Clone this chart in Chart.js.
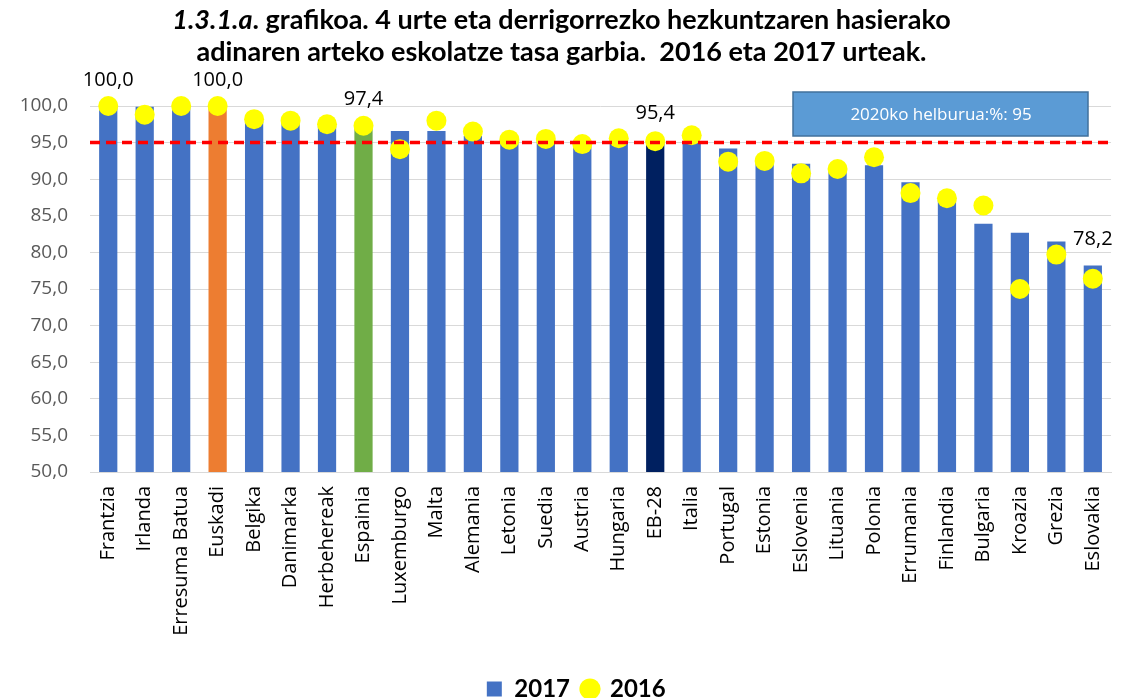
<!DOCTYPE html>
<html>
<head>
<meta charset="utf-8">
<script src="https://cdn.jsdelivr.net/npm/chart.js@4"></script>
<style>
  html, body { margin: 0; padding: 0; background: #fff; }
  #wrap { position: relative; width: 1123px; height: 698px; }
  #title {
    position: absolute; left: 0; top: 3px; width: 1123px;
    text-align: center; font-family: Lato, "Open Sans", sans-serif;
    font-weight: bold; font-size: 27px; line-height: 32px; color: #000;
  }
</style>
</head>
<body>
<div id="wrap">
  <canvas id="myChart" width="1123" height="698"></canvas>
  <div id="title"><i>1.3.1.a</i>. grafikoa. 4 urte eta derrigorrezko hezkuntzaren hasierako<br>adinaren arteko eskolatze tasa garbia.&nbsp; 2016 eta 2017 urteak.</div>
</div>
<script>
// Countries along the x-axis
var countries = ["Frantzia","Irlanda","Erresuma Batua","Euskadi","Belgika","Danimarka","Herbehereak",
  "Espainia","Luxemburgo","Malta","Alemania","Letonia","Suedia","Austria","Hungaria","EB-28",
  "Italia","Portugal","Estonia","Eslovenia","Lituania","Polonia","Errumania","Finlandia",
  "Bulgaria","Kroazia","Grezia","Eslovakia"];
// Bars (2017)
var y2017 = [100.0,99.9,100.0,100.0,97.9,97.8,97.3,97.4,96.6,96.6,95.9,95.5,95.5,95.0,95.0,95.4,
  95.1,94.2,92.9,92.1,91.4,91.9,89.6,87.2,83.9,82.7,81.5,78.2];
// Dots (2016)
var y2016 = [100.0,98.8,100.0,100.0,98.2,98.0,97.5,97.3,94.1,98.0,96.5,95.4,95.5,94.8,95.6,95.2,
  96.0,92.4,92.5,90.8,91.4,93.0,88.1,87.4,86.4,75.0,79.7,76.4];
// Axis ticks
var yMin = 50, yMax = 100, yStep = 5;
// 2020 target
var target = 95;
var targetText = "2020ko helburua:%: 95";
// Bars with a value label and highlighted bars
var labelled = ["Frantzia","Euskadi","Espainia","EB-28","Eslovakia"];
var highlight = { "Euskadi": "#ed7d31", "Espainia": "#70ad47", "EB-28": "#002060" };

var font = "'Open Sans', sans-serif";
var boldFont = "Lato, 'Open Sans', sans-serif";
var barColors = countries.map(function (c) { return highlight[c] || "#4472c4"; });

function fmt(v) { return v.toFixed(1).replace(".", ","); }

var extras = {
  id: "extras",
  beforeDraw: function (chart) {
    // legend sits a little right of the canvas centre
    chart.legend.left = 34;
    chart.legend.right = chart.width - 5;
  },
  afterDatasetsDraw: function (chart) {
    var ctx = chart.ctx, area = chart.chartArea;
    var y = chart.scales.y, meta = chart.getDatasetMeta(0);
    // target line
    ctx.save();
    ctx.strokeStyle = "#ff0000";
    ctx.lineWidth = 3.5;
    ctx.setLineDash([10, 6]);
    ctx.beginPath();
    ctx.moveTo(area.left, y.getPixelForValue(target));
    ctx.lineTo(area.right - 2, y.getPixelForValue(target));
    ctx.stroke();
    ctx.restore();
    // value labels
    ctx.save();
    ctx.fillStyle = "#000";
    ctx.font = "20px " + font;
    ctx.textAlign = "center";
    ctx.textBaseline = "middle";
    countries.forEach(function (c, i) {
      if (labelled.indexOf(c) < 0) return;
      var bar = meta.data[i];
      ctx.fillText(fmt(y2017[i]), bar.x, bar.y - 26);
    });
    ctx.restore();
    // target text box
    ctx.save();
    ctx.fillStyle = "#5b9bd5";
    ctx.strokeStyle = "#41719c";
    ctx.lineWidth = 1.5;
    ctx.fillRect(793, 92, 295, 44);
    ctx.strokeRect(793, 92, 295, 44);
    ctx.fillStyle = "#fff";
    ctx.font = "17px " + font;
    ctx.textAlign = "center";
    ctx.textBaseline = "middle";
    ctx.fillText(targetText, 941, 115);
    ctx.restore();
  }
};

var ctx = document.getElementById("myChart");
var myChart = new Chart(ctx, {
  type: "bar",
  data: {
    labels: countries,
    datasets: [
      {
        label: "2017",
        data: y2017,
        backgroundColor: barColors,
        borderWidth: 0,
        barPercentage: 1,
        categoryPercentage: 0.5,
        pointStyle: "rect",
        order: 2
      },
      {
        type: "line",
        label: "2016",
        data: y2016,
        showLine: false,
        clip: false,
        pointStyle: "circle",
        pointRadius: 10,
        pointHoverRadius: 10,
        pointBackgroundColor: "#ffff00",
        pointBorderWidth: 0,
        backgroundColor: "#ffff00",
        borderColor: "#ffff00",
        order: 1
      }
    ]
  },
  plugins: [extras],
  options: {
    responsive: false,
    animation: false,
    layout: { padding: { top: 106, right: 5, left: 0, bottom: -13 } },
    plugins: {
      tooltip: { enabled: false },
      title: { display: false },
      legend: {
        position: "bottom",
        labels: {
          usePointStyle: true,
          boxHeight: 15,
          boxWidth: 16,
          padding: 12,
          color: "#000",
          font: { family: boldFont, size: 24, weight: "bold", lineHeight: 1 },
          sort: function (a, b) { return a.datasetIndex - b.datasetIndex; }
        }
      }
    },
    scales: {
      x: {
        grid: { display: false },
        border: { color: "#d9d9d9" },
        ticks: {
          color: "#000",
          minRotation: 90,
          maxRotation: 90,
          autoSkip: false,
          padding: 6,
          font: { family: font, size: 20 }
        },
        afterFit: function (s) { s.height = 193; }
      },
      y: {
        min: yMin,
        max: yMax,
        grid: { color: "#d9d9d9", drawTicks: false },
        border: { display: false },
        ticks: {
          stepSize: yStep,
          color: "#595959",
          padding: 22,
          font: { family: font, size: 19 },
          callback: function (v) { return fmt(v); }
        },
        afterFit: function (s) { s.width = 90; }
      }
    }
  }
});
</script>
</body>
</html>
